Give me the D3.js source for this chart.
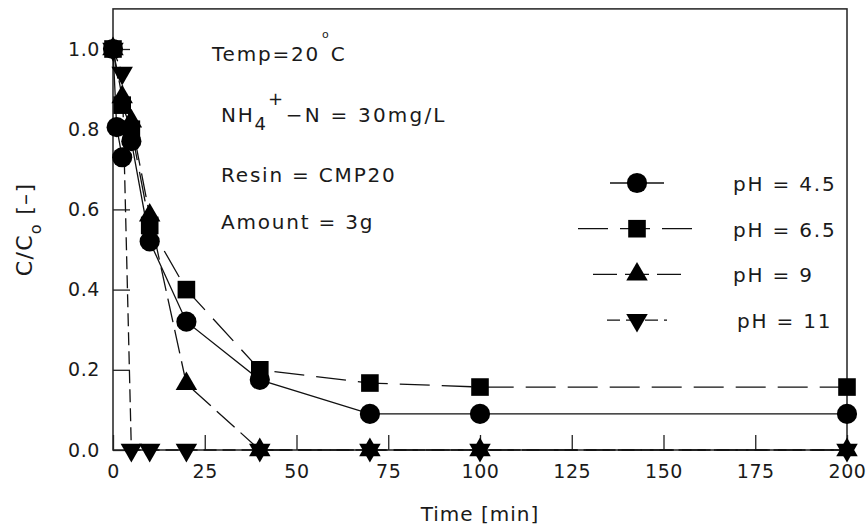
<!DOCTYPE html>
<html>
<head>
<meta charset="utf-8">
<script src="https://cdn.jsdelivr.net/npm/d3@7"></script>
<style>
  body { margin: 0; background: #fff; }
  text { font-family: "DejaVu Sans", sans-serif; fill: #1a1a1a; }
</style>
</head>
<body>
<svg id="chart" width="866" height="526"></svg>
<script>
// values
const xTicks = [0, 25, 50, 75, 100, 125, 150, 175, 200];
const yTicks = [0, 0.2, 0.4, 0.6, 0.8, 1.0];
const seriesNames = ['pH = 4.5', 'pH = 6.5', 'pH = 9', 'pH = 11'];

const timePh45 = [0, 1, 2.5, 5, 10, 20, 40, 70, 100, 200];
const valPh45  = [1.0, 0.805, 0.73, 0.77, 0.52, 0.32, 0.175, 0.09, 0.09, 0.09];
const timePh65 = [0, 2.5, 5, 10, 20, 40, 70, 100, 200];
const valPh65  = [1.0, 0.86, 0.80, 0.56, 0.40, 0.20, 0.167, 0.157, 0.157];
const timePh9  = [0, 2.5, 5, 10, 20, 40, 70, 100, 200];
const valPh9   = [1.0, 0.88, 0.82, 0.585, 0.165, 0, 0, 0, 0];
const timePh11 = [0, 2.5, 5, 10, 20, 40, 70, 100, 200];
const valPh11  = [1.0, 0.94, 0, 0, 0, 0, 0, 0, 0];

const notes = ['Resin = CMP20', 'Amount = 3g'];

const allTimes = [timePh45, timePh65, timePh9, timePh11];
const allVals = [valPh45, valPh65, valPh9, valPh11];

// drawing styles, one per series
const styles = [
  {dash: null,    symbol: d3.symbolCircle,   size: 320, rot: 0,   legendHalf: 27},
  {dash: '30,12', symbol: d3.symbolSquare,   size: 310, rot: 0,   legendHalf: 59},
  {dash: '24,8',  symbol: d3.symbolTriangle, size: 200, rot: 0,   legendHalf: 44},
  {dash: '13,6',  symbol: d3.symbolTriangle, size: 200, rot: 180, legendHalf: 30}
];

const svg = d3.select('#chart');
const plotLeft = 113, plotRight = 847, plotTop = 8.9, plotBottom = 450;

const x = d3.scaleLinear().domain([0, 200]).range([plotLeft, plotRight]);
const y = d3.scaleLinear().domain([0, 1.1]).range([plotBottom, plotTop]);

svg.append('rect').attr('width', 866).attr('height', 526).attr('fill', '#fff');

// axes, ticks pointing inward
const gx = svg.append('g')
  .attr('transform', `translate(0,${plotBottom})`)
  .call(d3.axisBottom(x).tickValues(xTicks).tickSizeInner(-15).tickSizeOuter(0).tickPadding(15));
const gy = svg.append('g')
  .attr('transform', `translate(${plotLeft},0)`)
  .call(d3.axisLeft(y).tickValues(yTicks).tickFormat(d3.format('.1f'))
    .tickSizeInner(-17).tickSizeOuter(0).tickPadding(13));

[gx, gy].forEach(g => {
  g.select('.domain').remove();
  g.selectAll('line').attr('stroke', '#222').attr('stroke-width', 1.3);
  g.selectAll('text').attr('font-size', 19).attr('letter-spacing', 0.6)
    .attr('font-family', '"DejaVu Sans", sans-serif').attr('fill', '#1a1a1a');
});

svg.append('rect')
  .attr('x', plotLeft).attr('y', plotTop)
  .attr('width', plotRight - plotLeft).attr('height', plotBottom - plotTop)
  .attr('fill', 'none').attr('stroke', '#222').attr('stroke-width', 1.5);

// axis titles
svg.append('text')
  .attr('x', (plotLeft + plotRight) / 2).attr('y', 521)
  .attr('text-anchor', 'middle').attr('font-size', 20).attr('letter-spacing', 1)
  .text('Time [min]');

const yl = svg.append('text')
  .attr('transform', `translate(32,${(plotTop + plotBottom) / 2}) rotate(-90)`)
  .attr('text-anchor', 'middle').attr('font-size', 22).attr('letter-spacing', 1.3);
yl.append('tspan').text('C/C');
yl.append('tspan').attr('font-size', 16).attr('dy', 9).text('o');
yl.append('tspan').attr('dy', -9).text(' [–]');

// lines
const line = d3.line().x(d => x(d[0])).y(d => y(d[1]));
allTimes.forEach((ts, i) => {
  const pts = ts.map((t, j) => [t, allVals[i][j]]);
  svg.append('path')
    .attr('d', line(pts))
    .attr('fill', 'none').attr('stroke', '#111').attr('stroke-width', 1.3)
    .attr('stroke-dasharray', styles[i].dash);
});

// markers
allTimes.forEach((ts, i) => {
  const sym = d3.symbol().type(styles[i].symbol).size(styles[i].size);
  svg.append('g').selectAll('path')
    .data(ts.map((t, j) => [t, allVals[i][j]]))
    .join('path')
    .attr('d', sym)
    .attr('transform', d => `translate(${x(d[0])},${y(d[1])}) rotate(${styles[i].rot})`)
    .attr('fill', '#000');
});

// annotation text
const ann = svg.append('g').attr('font-size', 20).attr('letter-spacing', 1.8);
const t1 = ann.append('text').attr('x', 212).attr('y', 61);
t1.append('tspan').text('Temp=20');
t1.append('tspan').attr('font-size', 11).attr('dy', -23).attr('dx', 2).text('o');
t1.append('tspan').attr('dy', 23).text('C');

const t2 = ann.append('text').attr('x', 221).attr('y', 122);
t2.append('tspan').text('NH');
t2.append('tspan').attr('font-size', 18).attr('dy', 8).text('4');
t2.append('tspan').attr('font-size', 18).attr('dy', -25).text('+');
t2.append('tspan').attr('dy', 17).attr('dx', 1).attr('letter-spacing', 2.2).text('−N = 30mg/L');

ann.selectAll('text.note')
  .data(notes)
  .join('text')
  .attr('class', 'note')
  .attr('x', 221)
  .attr('y', (d, i) => 182 + i * 47)
  .text(d => d);

// legend
const legX = 637, legLabelX = 733;
seriesNames.forEach((name, i) => {
  const cy = 183 + i * 45.7;
  const st = styles[i];
  svg.append('line')
    .attr('x1', legX - st.legendHalf).attr('x2', legX + st.legendHalf)
    .attr('y1', cy).attr('y2', cy)
    .attr('stroke', '#111').attr('stroke-width', 1.3)
    .attr('stroke-dasharray', st.dash);
  svg.append('path')
    .attr('d', d3.symbol().type(st.symbol).size(st.size)())
    .attr('transform', `translate(${legX},${cy}) rotate(${st.rot})`)
    .attr('fill', '#000');
  svg.append('text')
    .attr('x', legLabelX + (i === 3 ? 4 : 0)).attr('y', cy).attr('dy', '0.4em')
    .attr('font-size', 20).attr('letter-spacing', 1.8)
    .text(name);
});
</script>
</body>
</html>
